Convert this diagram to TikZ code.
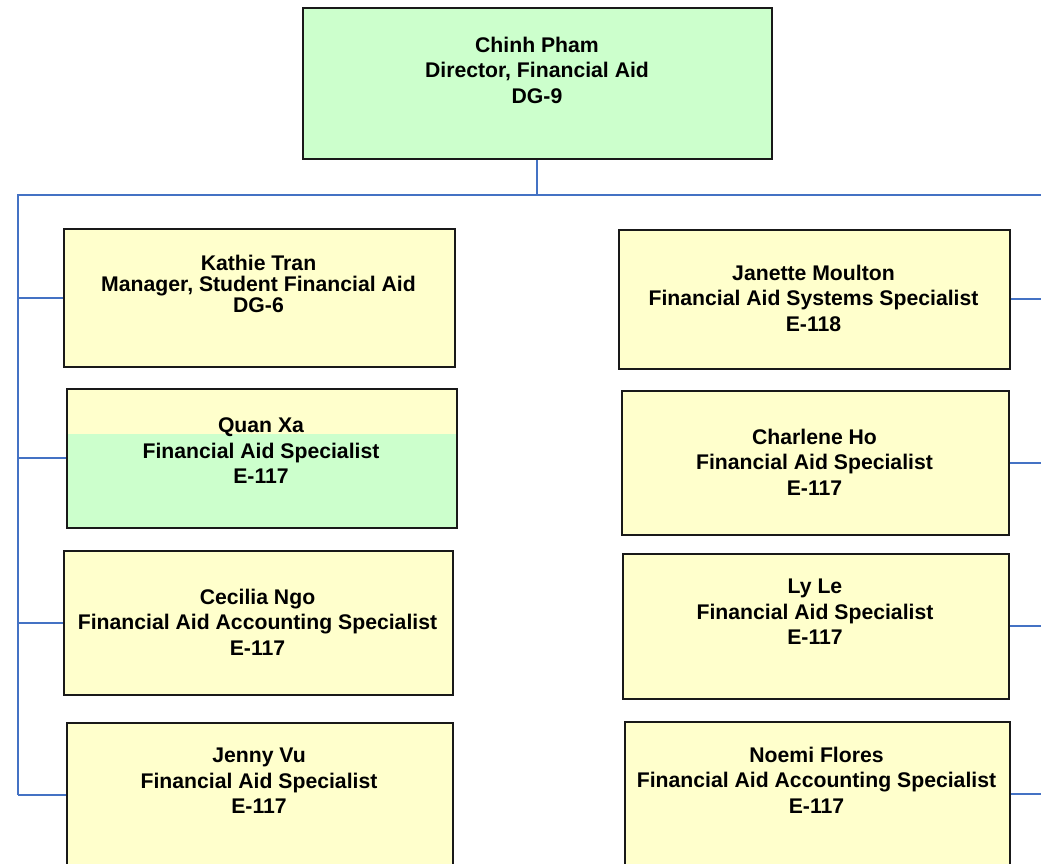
\documentclass[tikz,border=0pt]{standalone}
\usepackage{fontspec}
\setmainfont{Liberation Sans}
\definecolor{aidyellow}{HTML}{FFFFCC}
\definecolor{aidgreen}{HTML}{CCFFCC}
\definecolor{linkblue}{HTML}{4472C4}
\begin{document}
\begin{tikzpicture}[x=1pt,y=-1pt,
  box/.style={draw=black!90, line width=1.8pt, fill=aidyellow, inner sep=0pt, anchor=north west},
  lbl/.style={font=\fontsize{21.2}{25.5}\selectfont\bfseries, align=center, inner sep=0pt, text=black},
  link/.style={draw=linkblue, line width=2pt}]
\clip (0,0) rectangle (1041,864);
% boxes
\node[box, fill=aidgreen, minimum width=469pt, minimum height=151pt] (chinh) at (302,7) {};
\node[box, minimum width=391pt, minimum height=138pt] (kathie) at (63,228) {};
\node[box, minimum width=390pt, minimum height=139pt,
  path picture={\fill[aidgreen] ([yshift=-45pt]path picture bounding box.north west) rectangle (path picture bounding box.south east);}] (quan) at (66,388) {};
\node[box, minimum width=389pt, minimum height=144pt] (cecilia) at (63,550) {};
\node[box, minimum width=386pt, minimum height=144pt] (jenny) at (66,722) {};
\node[box, minimum width=391pt, minimum height=139pt] (janette) at (618,229) {};
\node[box, minimum width=387pt, minimum height=144pt] (charlene) at (621,390) {};
\node[box, minimum width=386pt, minimum height=145pt] (lyle) at (622,553) {};
\node[box, minimum width=385pt, minimum height=144pt] (noemi) at (624,721) {};
% texts
\node[lbl] (chinh-t) at (537,70) {Chinh Pham\\Director, Financial Aid\\DG-9};
\node[lbl, font=\fontsize{21.2}{21}\selectfont\bfseries] (kathie-t) at (258.5,284) {Kathie Tran\\Manager, Student Financial Aid\\DG-6};
\node[lbl] (quan-t) at (261,451) {Quan Xa\\Financial Aid Specialist\\E-117};
\node[lbl] (cecilia-t) at (257.5,622) {Cecilia Ngo\\Financial Aid Accounting Specialist\\E-117};
\node[lbl] (jenny-t) at (259,781) {Jenny Vu\\Financial Aid Specialist\\E-117};
\node[lbl] (janette-t) at (813.5,298) {Janette Moulton\\Financial Aid Systems Specialist\\E-118};
\node[lbl] (charlene-t) at (814.5,462) {Charlene Ho\\Financial Aid Specialist\\E-117};
\node[lbl] (lyle-t) at (815,612) {Ly Le\\Financial Aid Specialist\\E-117};
\node[lbl] (noemi-t) at (816.5,780) {Noemi Flores\\Financial Aid Accounting Specialist\\E-117};
% connectors
\coordinate (busL) at (18,195);
\coordinate (busR) at (1046,195);
\draw[link] (chinh.south) -- (chinh.south |- busL);
\draw[link] (busR) -- (busL) -- (busL |- jenny.west);
\draw[link] (busR) -- (busR |- noemi.east);
\foreach \n in {kathie,quan,cecilia,jenny}
  \draw[link] (busL |- \n.west) -- (\n.west);
\foreach \n in {janette,charlene,lyle,noemi}
  \draw[link] (\n.east) -- (busR |- \n.east);
\end{tikzpicture}
\end{document}
